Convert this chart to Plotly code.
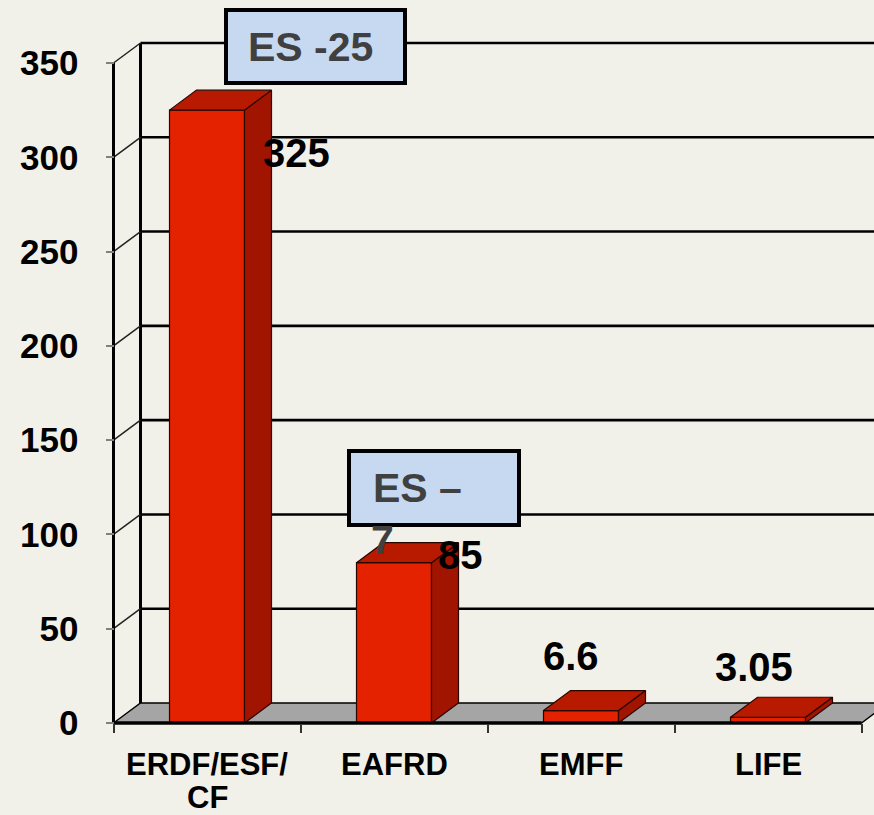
import plotly.graph_objects as go

# ---------------- data ----------------
categories = ["ERDF/ESF/<br>CF", "EAFRD", "EMFF", "LIFE"]
values = [325, 85, 6.6, 3.05]
y_ticks = [0, 50, 100, 150, 200, 250, 300, 350]
box_notes = ["ES -25", "ES –"]
overflow_note = "7"

# ---------------- layout geometry (pixels) ----------------
W, H = 874, 815
ML, MB = 60, 50
X0_PX = 113.5          # pixel of x = -0.5 (front-left corner)
Y0_PX = 723.0          # pixel of value 0 (front floor edge)
SX = 187.0             # px per category
SY = 660.0 / 350.0     # px per value unit
DX = 27.0 / SX         # depth offset (x)
DY = 20.0 / SY         # depth offset (y)
HW = 37.5 / SX         # half bar width

def px2x(p):
    return -0.5 + (p - X0_PX) / SX

def py2y(p):
    return (Y0_PX - p) / SY

x_range = [px2x(ML), px2x(W)]
y_range = [py2y(H - MB), py2y(0)]

BG = "#F2F1E9"
FONT = "Liberation Sans, Arial, sans-serif"
FRONT = "#E52200"
SIDE = "#A01400"
TOP = "#B81A00"
EDGE = "#2a0500"

fig = go.Figure()

def add_line(xs, ys, color="black", width=2.0):
    fig.add_trace(go.Scatter(x=xs, y=ys, mode="lines", line=dict(color=color, width=width),
                             hoverinfo="skip", showlegend=False))

def add_poly(xs, ys, fill, lc=EDGE, lw=1.2):
    fig.add_trace(go.Scatter(x=xs + [xs[0]], y=ys + [ys[0]], mode="lines", fill="toself",
                             fillcolor=fill, line=dict(color=lc, width=lw),
                             hoverinfo="skip", showlegend=False))

xl_front = -0.5
xr_front = len(categories) - 0.5
top_val = y_ticks[-1]

# back wall gridlines
for v in y_ticks[1:]:
    add_line([xl_front + DX, x_range[1]], [v + DY, v + DY], "black", 2.6)
# back wall vertical edge
add_line([xl_front + DX, xl_front + DX], [DY, top_val + DY], "black", 3)
# diagonals from front axis to back wall
for v in y_ticks[1:]:
    add_line([xl_front, xl_front + DX], [v, v + DY], "#222222", 1.5)

# floor
add_poly([xl_front, xr_front, xr_front + DX, xl_front + DX], [0, 0, DY, DY], "#A5A5A5", "black", 1.4)

# bars
for i, v in enumerate(values):
    xl, xr = i - HW, i + HW
    add_poly([xl, xr, xr, xl], [0, 0, v, v], FRONT)
    add_poly([xr, xr + DX, xr + DX, xr], [0, DY, v + DY, v], SIDE)
    add_poly([xl, xr, xr + DX, xl + DX], [v, v, v + DY, v + DY], TOP)

# front edges
add_line([xl_front, xr_front], [0, 0], "black", 3.5)
add_line([xl_front, xl_front], [0, top_val], "black", 3)

annotations = []

# data labels (manual offsets as in the original slide)
label_shift = [(89, -43), (66, 8), (-10, 55), (-14, 50)]
for i, v in enumerate(values):
    xs, ys = label_shift[i]
    annotations.append(dict(x=i, y=v, xref="x", yref="y", text=f"{v:g}", showarrow=False,
                            xshift=xs, yshift=ys, xanchor="center", yanchor="middle",
                            font=dict(family=FONT, size=40, color="black", weight="bold")))

# category labels
for i, c in enumerate(categories):
    for k, part in enumerate(c.split("<br>")):
        annotations.append(dict(x=i, y=py2y(745), xref="x", yref="y", text=part, showarrow=False,
                                xanchor="center", yanchor="top", yshift=-33 * k,
                                font=dict(family=FONT, size=31, color="black", weight="bold")))

# callout boxes
shapes = [
    dict(type="rect", xref="x", yref="y", x0=px2x(226), x1=px2x(405), y0=py2y(83), y1=py2y(10),
         fillcolor="#C6D9F1", line=dict(color="black", width=4), layer="above"),
    dict(type="rect", xref="x", yref="y", x0=px2x(349), x1=px2x(519), y0=py2y(525), y1=py2y(451),
         fillcolor="#C6D9F1", line=dict(color="black", width=4), layer="above"),
]
annotations.append(dict(x=px2x(310), y=py2y(47), xref="x", yref="y", text=box_notes[0], showarrow=False,
                        xanchor="center", yanchor="middle",
                        font=dict(family=FONT, size=41, color="#404040", weight="bold")))
annotations.append(dict(x=px2x(371), y=py2y(488), xref="x", yref="y", text=box_notes[1], showarrow=False,
                        xanchor="left", yanchor="middle",
                        font=dict(family=FONT, size=41, color="#404040", weight="bold")))
annotations.append(dict(x=px2x(382), y=py2y(540), xref="x", yref="y", text=overflow_note, showarrow=False,
                        xanchor="center", yanchor="middle",
                        font=dict(family=FONT, size=41, color="#404040", weight="bold")))

fig.update_layout(
    width=W, height=H,
    margin=dict(l=ML, r=0, t=0, b=MB, pad=0),
    paper_bgcolor=BG, plot_bgcolor=BG,
    showlegend=False,
    shapes=shapes,
    annotations=annotations,
    xaxis=dict(range=x_range, anchor="free", position=(H - MB - Y0_PX) / (H - MB),
               tickmode="array", tickvals=[k - 0.5 for k in range(len(categories) + 1)],
               ticks="outside", ticklen=9, tickwidth=2, tickcolor="#333333",
               showticklabels=False, showgrid=False, zeroline=False, showline=False,
               fixedrange=True),
    yaxis=dict(range=y_range, anchor="free", position=(X0_PX - ML) / (W - ML),
               tickmode="array", tickvals=y_ticks, ticktext=[str(t) for t in y_ticks],
               ticks="outside", ticklen=8, tickwidth=2, tickcolor="#808080",
               ticklabelstandoff=20,
               tickfont=dict(family=FONT, size=35, color="black", weight="bold"),
               showgrid=False, zeroline=False, showline=False, fixedrange=True),
)

fig.write_html("out.html", config={"displayModeBar": False},
               post_script="document.body.style.margin='0';document.body.style.background='%s';" % BG)
